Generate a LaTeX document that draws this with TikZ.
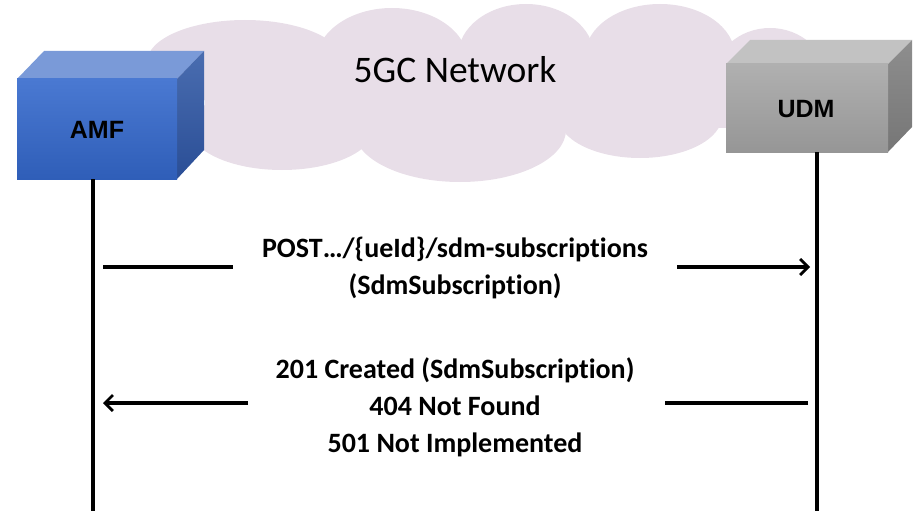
\documentclass[tikz,border=0pt]{standalone}
\usepackage{fontspec}
\setmainfont{Carlito}[Ligatures=NoCommon]
\newfontfamily\arialf{Liberation Sans}
\usetikzlibrary{arrows.meta}
\definecolor{cloudc}{RGB}{232,222,232}
\definecolor{amftop}{RGB}{122,154,216}
\definecolor{amffa}{RGB}{74,121,210}
\definecolor{amffb}{RGB}{47,94,184}
\definecolor{amfsa}{RGB}{74,109,176}
\definecolor{amfsb}{RGB}{42,78,150}
\definecolor{udmtop}{RGB}{194,194,194}
\definecolor{udmfa}{RGB}{176,176,176}
\definecolor{udmfb}{RGB}{150,150,150}
\definecolor{udmsa}{RGB}{142,142,142}
\definecolor{udmsb}{RGB}{118,118,118}
\tikzset{
  life/.style={line width=3.6pt},
  msgline/.style={line width=3.2pt},
  msgarrow/.style={line width=3.2pt,-{Straight Barb[length=8pt,width=16pt,line width=2.8pt]}},
  msgtext/.style={font=\fontsize{28}{37}\selectfont\bfseries,align=center,inner sep=0pt},
  boxlabel/.style={font=\arialf\fontsize{25}{28}\selectfont\bfseries,inner sep=0pt},
}
\begin{document}
\begin{tikzpicture}[x=1pt,y=-1pt]
\useasboundingbox (0,0) rectangle (916,511);
% cloud
\begin{scope}
\fill[cloudc] (245,62) ellipse [x radius=98,y radius=42];
\fill[cloudc] (392,62) ellipse [x radius=76,y radius=54];
\fill[cloudc] (526,56) ellipse [x radius=68,y radius=52];
\fill[cloudc] (660,56) ellipse [x radius=75,y radius=52];
\fill[cloudc] (770,78) ellipse [x radius=56,y radius=50];
\fill[cloudc] (282,128) ellipse [x radius=92,y radius=42];
\fill[cloudc] (460,130) ellipse [x radius=106,y radius=52];
\fill[cloudc] (640,116) ellipse [x radius=82,y radius=42];
\fill[cloudc] (205,45) rectangle (740,128);
\end{scope}
\node[font=\fontsize{37.5}{40}\selectfont,inner sep=0pt] (net) at (455,70) {5GC Network};
% AMF box
\fill[amftop] (17,79) -- (44,51) -- (204,51) -- (177,79) -- cycle;
\shade[top color=amfsa,bottom color=amfsb] (177,79) -- (204,51) -- (204,150) -- (177,179) -- cycle;
\shade[top color=amffa,bottom color=amffb] (17,79) rectangle (177,179);
\node[minimum width=160pt,minimum height=100pt,inner sep=0pt] (amf) at (97,129) {};
\node[boxlabel] at (97,130) {AMF};
% UDM box
\fill[udmtop] (726,64) -- (750,40) -- (912,40) -- (888,64) -- cycle;
\shade[top color=udmsa,bottom color=udmsb] (888,64) -- (912,40) -- (912,127) -- (888,152) -- cycle;
\shade[top color=udmfa,bottom color=udmfb] (726,64) rectangle (888,152);
\node[minimum width=162pt,minimum height=88pt,inner sep=0pt] (udm) at (807,108) {};
\node[boxlabel] at (806,109) {UDM};
% lifelines
\coordinate (amfend) at (93,511);
\coordinate (udmend) at (817,511);
\draw[life] (amf.south -| amfend) -- (amfend);
\draw[life] (udm.south -| udmend) -- (udmend);
% request
\node[msgtext] (req) at (455,268) {POST…/\{ueId\}/sdm-subscriptions\\(SdmSubscription)};
\coordinate (r1) at (103,267);
\coordinate (r2) at (233,267);
\coordinate (r3) at (677,267);
\coordinate (r4) at (810,267);
\draw[msgline] (r1) -- (r2);
\draw[msgarrow] (r3) -- (r4);
% response
\node[msgtext] (resp) at (455,407) {201 Created (SdmSubscription)\\404 Not Found\\501 Not Implemented};
\coordinate (s1) at (808,403);
\coordinate (s2) at (665,403);
\coordinate (s3) at (248,403);
\coordinate (s4) at (103,403);
\draw[msgline] (s1) -- (s2);
\draw[msgarrow] (s3) -- (s4);
\end{tikzpicture}
\end{document}
